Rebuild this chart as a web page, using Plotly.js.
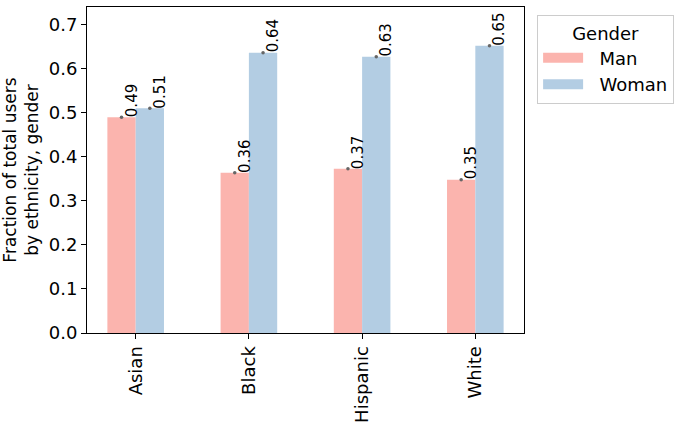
<!DOCTYPE html>
<html><head><meta charset="utf-8">
<script src="https://cdn.plot.ly/plotly-3.0.1.min.js"></script>
<style>html,body{margin:0;padding:0;background:#fff}#chart{width:681px;height:425px}</style>
</head><body><div id="chart"></div>
<script>
const categories = ["Asian", "Black", "Hispanic", "White"];
const seriesNames = ["Man", "Woman"];
const manValues = [0.490, 0.364, 0.373, 0.348];
const womanValues = [0.510, 0.636, 0.627, 0.652];
const yTicks = [0, 0.1, 0.2, 0.3, 0.4, 0.5, 0.6, 0.7];
const colors = ["#fbb4ae", "#b3cde3"];

const font = "DejaVu Sans, sans-serif";
const idx = categories.map((c, i) => i);
const off = 0.125;
const pad = "&nbsp;&nbsp;";

const traces = [
  {type: "bar", name: seriesNames[0], x: idx, y: manValues, marker: {color: colors[0]}, showlegend: false},
  {type: "bar", name: seriesNames[1], x: idx, y: womanValues, marker: {color: colors[1]}, showlegend: false},
  {type: "scatter", mode: "markers", showlegend: false, hoverinfo: "skip",
   x: idx.map(i => i - off).concat(idx.map(i => i + off)),
   y: manValues.concat(womanValues),
   marker: {color: "#666", size: 3.5}},
  // legend entries drawn as wide swatches
  {type: "scatter", mode: "lines", name: pad + seriesNames[0], x: [null], y: [null], line: {color: colors[0], width: 13}},
  {type: "scatter", mode: "lines", name: pad + seriesNames[1], x: [null], y: [null], line: {color: colors[1], width: 13}}
];

const annotations = [];
[[manValues, -off], [womanValues, off]].forEach(([vals, o]) => {
  vals.forEach((v, i) => {
    annotations.push({x: i + o, y: v, xref: "x", yref: "y", text: v.toFixed(2),
      textangle: -90, showarrow: false, xanchor: "left", yanchor: "bottom",
      xshift: -1, yshift: -2,
      font: {family: font, size: 15, color: "#000"}});
  });
});

const layout = {
  width: 681, height: 425,
  margin: {l: 87, r: 155, t: 7, b: 92},
  paper_bgcolor: "#fff", plot_bgcolor: "#fff",
  font: {family: font, size: 18, color: "#000"},
  barmode: "group", bargap: 0.5, bargroupgap: 0,
  xaxis: {range: [-0.43, 3.43], tickvals: idx, ticktext: categories, tickangle: -90,
    showgrid: false, zeroline: false, showline: true, mirror: true, linecolor: "#000", linewidth: 1,
    ticks: "outside", ticklen: 5, tickcolor: "#000", tickfont: {size: 18}},
  yaxis: {range: [0, 0.74], tickvals: yTicks, ticktext: yTicks.map(v => v.toFixed(1)),
    showgrid: false, zeroline: false, showline: true, mirror: true, linecolor: "#000", linewidth: 1,
    ticks: "outside", ticklen: 5, tickcolor: "#000", tickfont: {size: 18},
    title: {text: "Fraction of total users<br>by ethnicity, gender", font: {size: 17}, standoff: 8}},
  legend: {x: 1.03, y: 0.975, xanchor: "left", yanchor: "top",
    bordercolor: "#ccc", borderwidth: 1, bgcolor: "#fff",
    font: {size: 18}, title: {text: "Gender", side: "top center", font: {size: 18}},
    itemwidth: 40, tracegroupgap: 4},
  annotations: annotations
};

Plotly.newPlot("chart", traces, layout, {staticPlot: true, displayModeBar: false});
</script></body></html>
